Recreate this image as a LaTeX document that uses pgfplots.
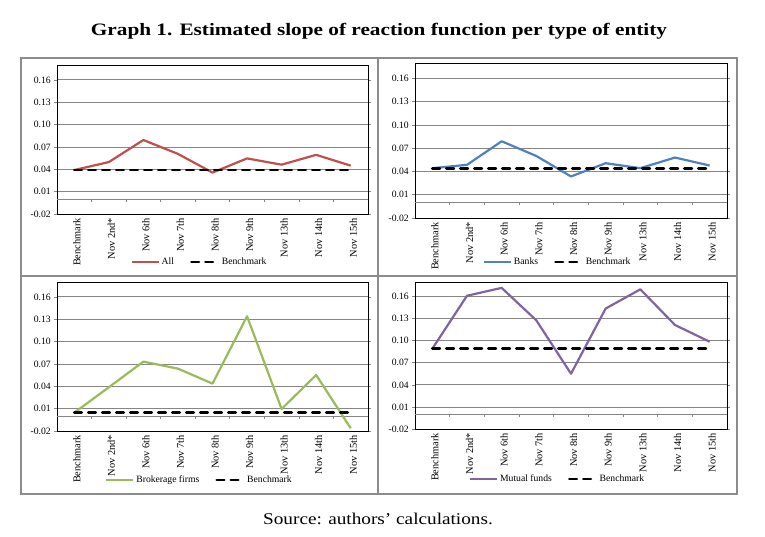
\documentclass[border=0pt]{standalone}
\usepackage{pgfplots}
\pgfplotsset{compat=1.18}
\usepackage{pgfplotstable}
\usepackage{fontspec}
\setmainfont{Liberation Serif}
\definecolor{allc}{HTML}{C0504D}
\definecolor{bankc}{HTML}{4F81BD}
\definecolor{brokc}{HTML}{9BBB59}
\definecolor{mutc}{HTML}{8064A2}
\definecolor{gridc}{HTML}{868686}
\definecolor{framec}{HTML}{8C8C8C}

\pgfplotstableread{
x all banks broker mutual bAll bBanks bBroker bMutual
0 0.0390 0.0443 0.0046 0.0893 0.0390 0.0443 0.0046 0.0893
1 0.0497 0.0486 0.0387 0.1613 0.0390 0.0443 0.0046 0.0893
2 0.0793 0.0790 0.0731 0.1720 0.0390 0.0443 0.0046 0.0893
3 0.0607 0.0600 0.0637 0.1278 0.0390 0.0443 0.0046 0.0893
4 0.0356 0.0336 0.0436 0.0552 0.0390 0.0443 0.0046 0.0893
5 0.0546 0.0507 0.1340 0.1439 0.0390 0.0443 0.0046 0.0893
6 0.0462 0.0443 0.0096 0.1700 0.0390 0.0443 0.0046 0.0893
7 0.0594 0.0580 0.0552 0.1215 0.0390 0.0443 0.0046 0.0893
8 0.0449 0.0477 -0.0164 0.0987 0.0390 0.0443 0.0046 0.0893
}\datatable

\newcommand{\smallfont}{\fontsize{9.7}{11}\selectfont}
\newcommand{\xlabfont}{\fontsize{10.4}{12}\selectfont}

\pgfplotsset{
  panel/.style={
    scale only axis,
    width=311bp, height=149bp,
    xmin=-0.5, xmax=8.5, ymin=-0.02, ymax=0.18,
    xtick={0,...,8},
    xticklabels={Benchmark,Nov 2nd*,Nov 6th,Nov 7th,Nov 8th,Nov 9th,Nov 13th,Nov 14th,Nov 15th},
    x tick label style={rotate=90, anchor=east, font=\xlabfont, inner sep=1bp, yshift=-2.5bp},
    major x tick style={draw=none},
    ytick={-0.02,0.01,0.04,0.07,0.10,0.13,0.16},
    yticklabels={-0.02,0.01,0.04,0.07,0.10,0.13,0.16},
    y tick label style={font=\smallfont, inner sep=1bp, xshift=-2bp},
    major y tick style={gridc, line width=0.7bp},
    tick align=outside, major tick length=3bp,
    ymajorgrids,
    grid style={gridc, line width=0.8bp},
    axis line style={black, line width=0.9bp},
    legend columns=2,
    legend style={draw=none, fill=none, font=\smallfont, anchor=center,
      /tikz/every even column/.append style={column sep=14bp},
      inner sep=0bp},
    legend cell align=left,
    legend image code/.code={\draw[##1] (0bp,0bp) -- (27bp,0bp);},
    clip=false,
    execute at begin axis={
      \addplot[gridc, line width=0.8bp, forget plot] coordinates {(-0.5,0) (8.5,0)};
      \pgfplotsinvokeforeach{0.5,1.5,2.5,3.5,4.5,5.5,6.5,7.5}{
        \draw[gridc, line width=0.7bp] (axis cs:##1,0) -- ++(0bp,-3bp);
      }
    },
  },
  ser/.style={line width=2.2bp, line join=round},
  bench/.style={black, line width=2.8bp, line cap=round, dash pattern=on 7.5bp off 6.5bp},
}

\begin{document}
\begin{tikzpicture}
\path[use as bounding box] (0bp,0bp) rectangle (765bp,537bp);
% title
\node[anchor=base, xscale=1.22, font=\fontsize{17.5}{21}\selectfont\bfseries] at (379bp,501bp)
  {Graph 1. Estimated slope of reaction function per type of entity};
% source
\node[anchor=base, xscale=1.17, font=\fontsize{16.5}{19}\selectfont] at (378bp,13bp)
  {Source: authors’ calculations.};
% frames
\draw[framec, line width=1.2bp] (21bp,43bp) rectangle (737bp,479bp);
\draw[framec, line width=1.2bp] (378bp,43bp) -- (378bp,479bp);
\draw[framec, line width=1.2bp] (21bp,261bp) -- (737bp,261bp);

% Panel 1: All
\begin{axis}[panel, at={(57bp,323bp)}, anchor=south west,
  width=311bp, height=149bp,
  legend style={at={(0.458,-0.322)}}]
  \addplot[ser, allc] table[x=x, y=all] {\datatable};
  \addlegendentry{All}
  \addplot[bench] table[x=x, y=bAll] {\datatable};
  \addlegendentry{Benchmark}
\end{axis}

% Panel 2: Banks
\begin{axis}[panel, at={(415bp,319bp)}, anchor=south west,
  width=312bp, height=155bp,
  legend style={at={(0.457,-0.284)}}]
  \addplot[ser, bankc] table[x=x, y=banks] {\datatable};
  \addlegendentry{Banks}
  \addplot[bench] table[x=x, y=bBanks] {\datatable};
  \addlegendentry{Benchmark}
\end{axis}

% Panel 3: Brokerage firms
\begin{axis}[panel, at={(57bp,106bp)}, anchor=south west,
  width=311bp, height=149bp,
  legend style={at={(0.458,-0.329)}}]
  \addplot[ser, brokc] table[x=x, y=broker] {\datatable};
  \addlegendentry{Brokerage firms}
  \addplot[bench] table[x=x, y=bBroker] {\datatable};
  \addlegendentry{Benchmark}
\end{axis}

% Panel 4: Mutual funds
\begin{axis}[panel, at={(415bp,108bp)}, anchor=south west,
  width=312bp, height=147bp,
  legend style={at={(0.457,-0.34)}}]
  \addplot[ser, mutc] table[x=x, y=mutual] {\datatable};
  \addlegendentry{Mutual funds}
  \addplot[bench] table[x=x, y=bMutual] {\datatable};
  \addlegendentry{Benchmark}
\end{axis}
\end{tikzpicture}
\end{document}
